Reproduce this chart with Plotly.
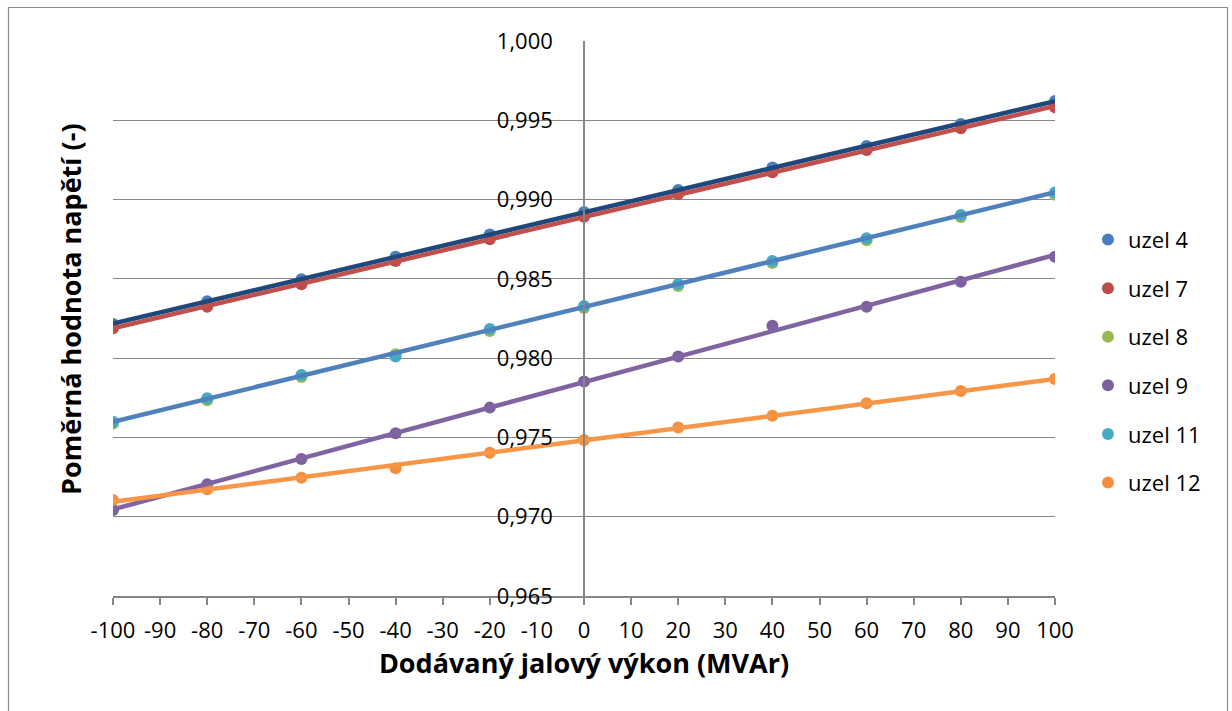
import numpy as np
import plotly.graph_objects as go

# Dodávaný jalový výkon (MVAr)
q_mvar = [-100, -80, -60, -40, -20, 0, 20, 40, 60, 80, 100]

# popisky osy x (po 10 MVAr)
x_tick_vals = list(range(-100, 101, 10))
x_tick_text = [str(v) for v in x_tick_vals]

# Poměrná hodnota napětí v uzlech
uzel_4 = [0.98215, 0.98358, 0.98498, 0.98639, 0.98780, 0.98921, 0.99060, 0.99203, 0.99338, 0.99477, 0.99622]
uzel_7 = [0.98188, 0.98324, 0.98466, 0.98613, 0.98749, 0.98892, 0.99035, 0.99172, 0.99313, 0.99449, 0.99582]
uzel_8 = [0.97587, 0.97734, 0.97881, 0.98025, 0.98171, 0.98316, 0.98455, 0.98600, 0.98743, 0.98890, 0.99031]
uzel_9 = [0.97042, 0.97205, 0.97364, 0.97526, 0.97688, 0.97852, 0.98010, 0.98205, 0.98324, 0.98482, 0.98640]
uzel_11 = [0.97599, 0.97747, 0.97894, 0.98010, 0.98184, 0.98329, 0.98468, 0.98613, 0.98756, 0.98903, 0.99044]
uzel_12 = [0.97106, 0.97173, 0.97246, 0.97305, 0.97404, 0.97484, 0.97562, 0.97637, 0.97715, 0.97793, 0.97868]

series_names = ["uzel 4", "uzel 7", "uzel 8", "uzel 9", "uzel 11", "uzel 12"]
series_values = [uzel_4, uzel_7, uzel_8, uzel_9, uzel_11, uzel_12]
marker_colors = ["#4A7EBB", "#BE4B48", "#98B954", "#7D60A0", "#46AAC5", "#F38F3F"]

# linear trend lines: (series index, line colour)
trend_lines = [(0, "#1F497D"), (1, "#C0504D"), (4, "#4F81BD"), (3, "#8064A2"), (5, "#F79646")]

FONT = "Open Sans"

fig = go.Figure()

for name, vals, col in zip(series_names, series_values, marker_colors):
    fig.add_trace(go.Scatter(
        x=q_mvar, y=vals, mode="markers", name=name,
        legendgroup=name,
        marker=dict(size=12, color=col, line=dict(width=0)),
    ))

x_span = np.array([min(q_mvar), max(q_mvar)], dtype=float)
for idx, col in trend_lines:
    k, q = np.polyfit(q_mvar, series_values[idx], 1)
    fig.add_trace(go.Scatter(
        x=x_span, y=k * x_span + q, mode="lines",
        line=dict(color=col, width=4.5),
        showlegend=False, hoverinfo="skip",
    ))

grid_col = "#868686"

fig.update_layout(
    width=1232, height=711,
    margin=dict(l=113, r=177, t=41, b=115),
    paper_bgcolor="white", plot_bgcolor="white",
    separators=", ",
    font=dict(family=FONT, size=22, color="black"),
    showlegend=True,
    legend=dict(
        x=1.035, y=0.423, xanchor="left", yanchor="middle",
        font=dict(family=FONT, size=22, color="black"),
        traceorder="grouped", tracegroupgap=17,
        itemsizing="constant", itemwidth=30,
    ),
    xaxis=dict(
        range=[-100, 100],
        tickmode="array", tickvals=x_tick_vals, ticktext=x_tick_text,
        showgrid=False, zeroline=False,
        showline=True, linecolor=grid_col, linewidth=1.5,
        ticks="outside", ticklen=7, tickcolor=grid_col, tickwidth=1.5,
        ticklabelstandoff=7,
        tickfont=dict(family=FONT, size=22),
        title=dict(text="<b>Dodávaný jalový výkon (MVAr)</b>",
                   font=dict(family=FONT, size=27), standoff=4),
    ),
    yaxis=dict(
        range=[0.965, 1.000], dtick=0.005, tick0=0.965,
        tickformat=".3f",
        showgrid=True, gridcolor=grid_col, gridwidth=1,
        zeroline=False,
        anchor="free", position=0.5,
        showline=True, linecolor=grid_col, linewidth=1.5,
        ticks="", ticklabelstandoff=26,
        tickfont=dict(family=FONT, size=22),
    ),
)

# y-axis title sits at the left edge of the chart
fig.add_annotation(
    text="<b>Poměrná hodnota napětí (-)</b>",
    xref="paper", yref="paper",
    x=(70 - 113) / 942, y=(596 - 309) / 555,
    xanchor="center", yanchor="middle",
    textangle=-90, showarrow=False,
    font=dict(family=FONT, size=27, color="black"),
)

# outer chart frame
fig.add_shape(type="rect", xref="paper", yref="paper",
              x0=(8.5 - 113) / 942, x1=(1227.5 - 113) / 942,
              y0=(596 - 720) / 555, y1=(596 - 7.5) / 555,
              line=dict(color="#8C8C8C", width=1.2), layer="below")

fig.write_html("out.html")
